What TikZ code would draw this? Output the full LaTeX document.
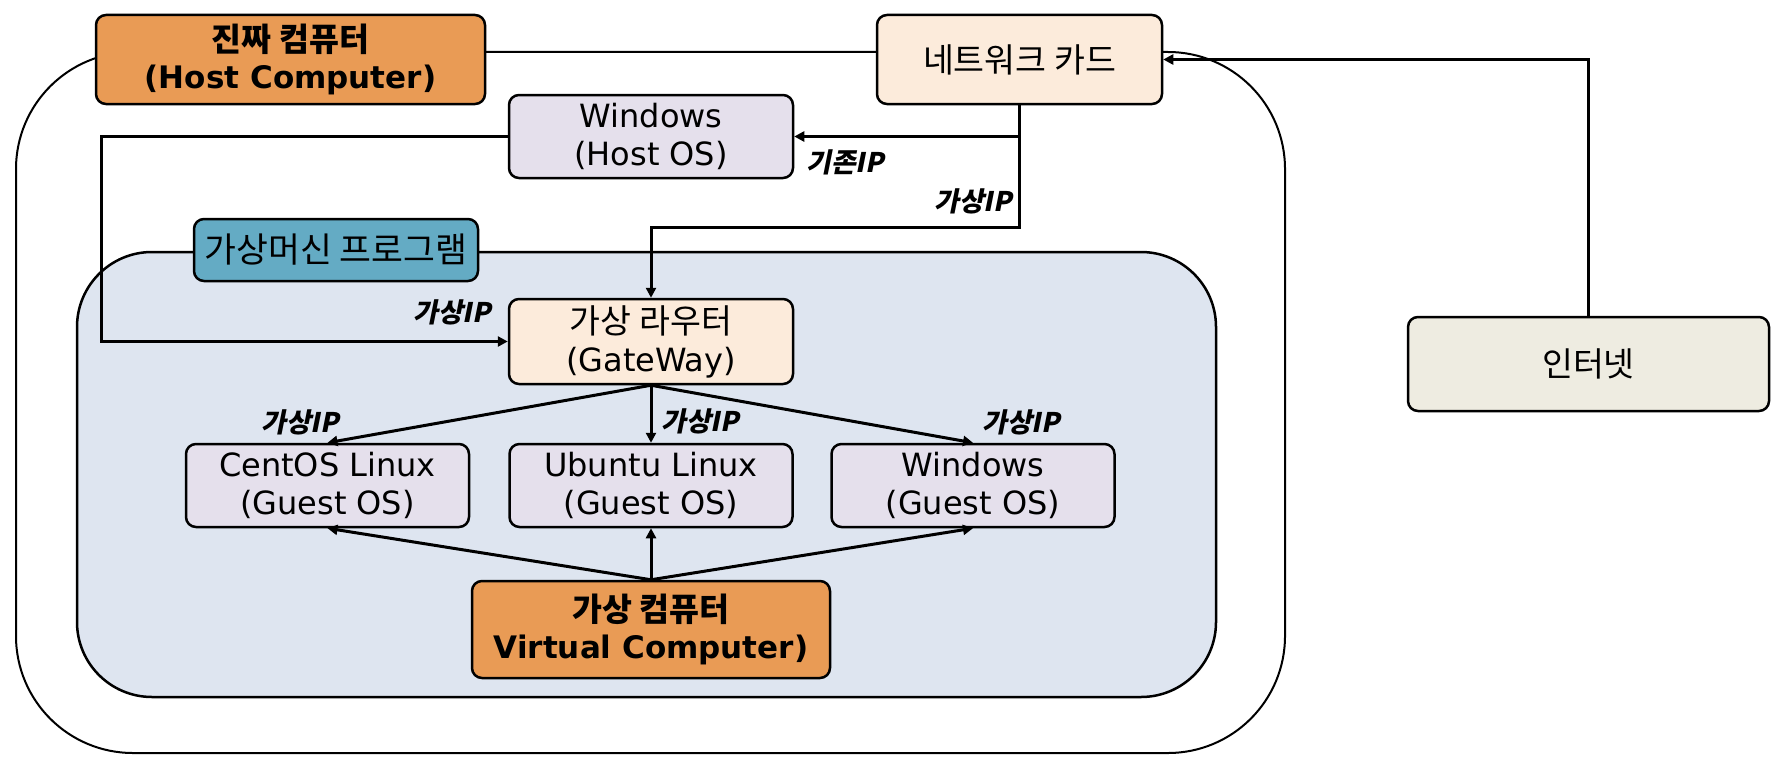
\documentclass[tikz,border=0pt]{standalone}
\usepackage{fontspec}
\setmainfont{DejaVu Sans}
\newfontfamily\kr{Noto Sans CJK KR}[Scale=1.05]
\newfontfamily\krip{Noto Sans CJK KR}[FakeSlant=0.2]
\usetikzlibrary{arrows.meta,positioning}
\definecolor{hostfill}{HTML}{E99B55}
\definecolor{peachfill}{HTML}{FCEBDB}
\definecolor{osfill}{HTML}{E5E0EC}
\definecolor{vmlabelfill}{HTML}{64ABC4}
\definecolor{vmareafill}{HTML}{DEE5F0}
\definecolor{inetfill}{HTML}{EEECE1}
\begin{document}
\begin{tikzpicture}[
  x=1pt, y=-1pt,
  box/.style={rectangle, rounded corners=10pt, draw, line width=2.5pt, align=center, inner sep=0pt, font=\fontsize{32}{38}\selectfont},
  hostbox/.style={box, fill=hostfill, font=\fontsize{31}{37}\selectfont\bfseries},
  osbox/.style={box, fill=osfill, minimum width=283pt, minimum height=83pt},
  peachbox/.style={box, fill=peachfill},
  iplabel/.style={inner sep=0pt, font=\fontsize{27}{27}\selectfont\krip\bfseries},
  link/.style={line width=3pt, -{Triangle[length=10pt,width=10pt]}}
]
\useasboundingbox (0,0) rectangle (1784,776);
% host machine and the vm program area
\draw[line width=2pt, rounded corners=117pt] (16,52) rectangle (1285,753);
\draw[line width=2.5pt, fill=vmareafill, rounded corners=75pt] (77,252) rectangle (1216,697);

\node[hostbox, minimum width=389pt, minimum height=89pt] (host) at (290.5,59.5) {{\kr 진짜 컴퓨터}\\(Host Computer)};
\node[peachbox, minimum width=285pt, minimum height=89pt] (nic) at (1019.5,59.5) {\kr 네트워크 카드};
\node[osbox, minimum width=284pt] (winhost) at (651,136.5) {Windows\\(Host OS)};
\node[box, fill=vmlabelfill, minimum width=284pt, minimum height=62pt, font=\fontsize{33}{38}\selectfont] (vmlabel) at (336,250) {\kr 가상머신 프로그램};
\node[peachbox, minimum width=284pt, minimum height=85pt] (router) at (651,341.5) {{\kr 가상 라우터}\\(GateWay)};
\node[osbox] (centos) at (327.5,485.5) {CentOS Linux\\(Guest OS)};
\node[osbox, right of=centos, node distance=323.5pt] (ubuntu) {Ubuntu Linux\\(Guest OS)};
\node[osbox, right of=ubuntu, node distance=322pt] (winguest) {Windows\\(Guest OS)};
\node[hostbox, minimum width=358pt, minimum height=97pt] (vcomp) at (651,629.5) {{\kr 가상 컴퓨터}\\Virtual Computer)};
\node[box, fill=inetfill, minimum width=361pt, minimum height=94pt] (inet) at (1588.5,364) {\kr 인터넷};

\draw[link] (inet.north) |- (nic.east);
\draw[link] (nic.south) |- (winhost.east);
\draw[link] (nic.south) -- ++(0,122) -| (router.north);
\draw[link] (winhost.west) -- ++(-406,0) |- (router.west);

\draw[link] (router.south) -- (centos.north);
\draw[link] (router.south) -- (ubuntu.north);
\draw[link] (router.south) -- (winguest.north);
\draw[link] (vcomp.north) -- (centos.south);
\draw[link] (vcomp.north) -- (ubuntu.south);
\draw[link] (vcomp.north) -- (winguest.south);

% ip labels
\node[iplabel] (ipold) at (845,162) {기존IP};
\node[iplabel] (ipnic) at (973,201) {가상IP};
\node[iplabel] (iprouter) at (452,312) {가상IP};
\node[iplabel] (ipcentos) at (300,422) {가상IP};
\node[iplabel] (ipubuntu) at (700,421) {가상IP};
\node[iplabel] (ipwin) at (1021,422) {가상IP};
\end{tikzpicture}
\end{document}
